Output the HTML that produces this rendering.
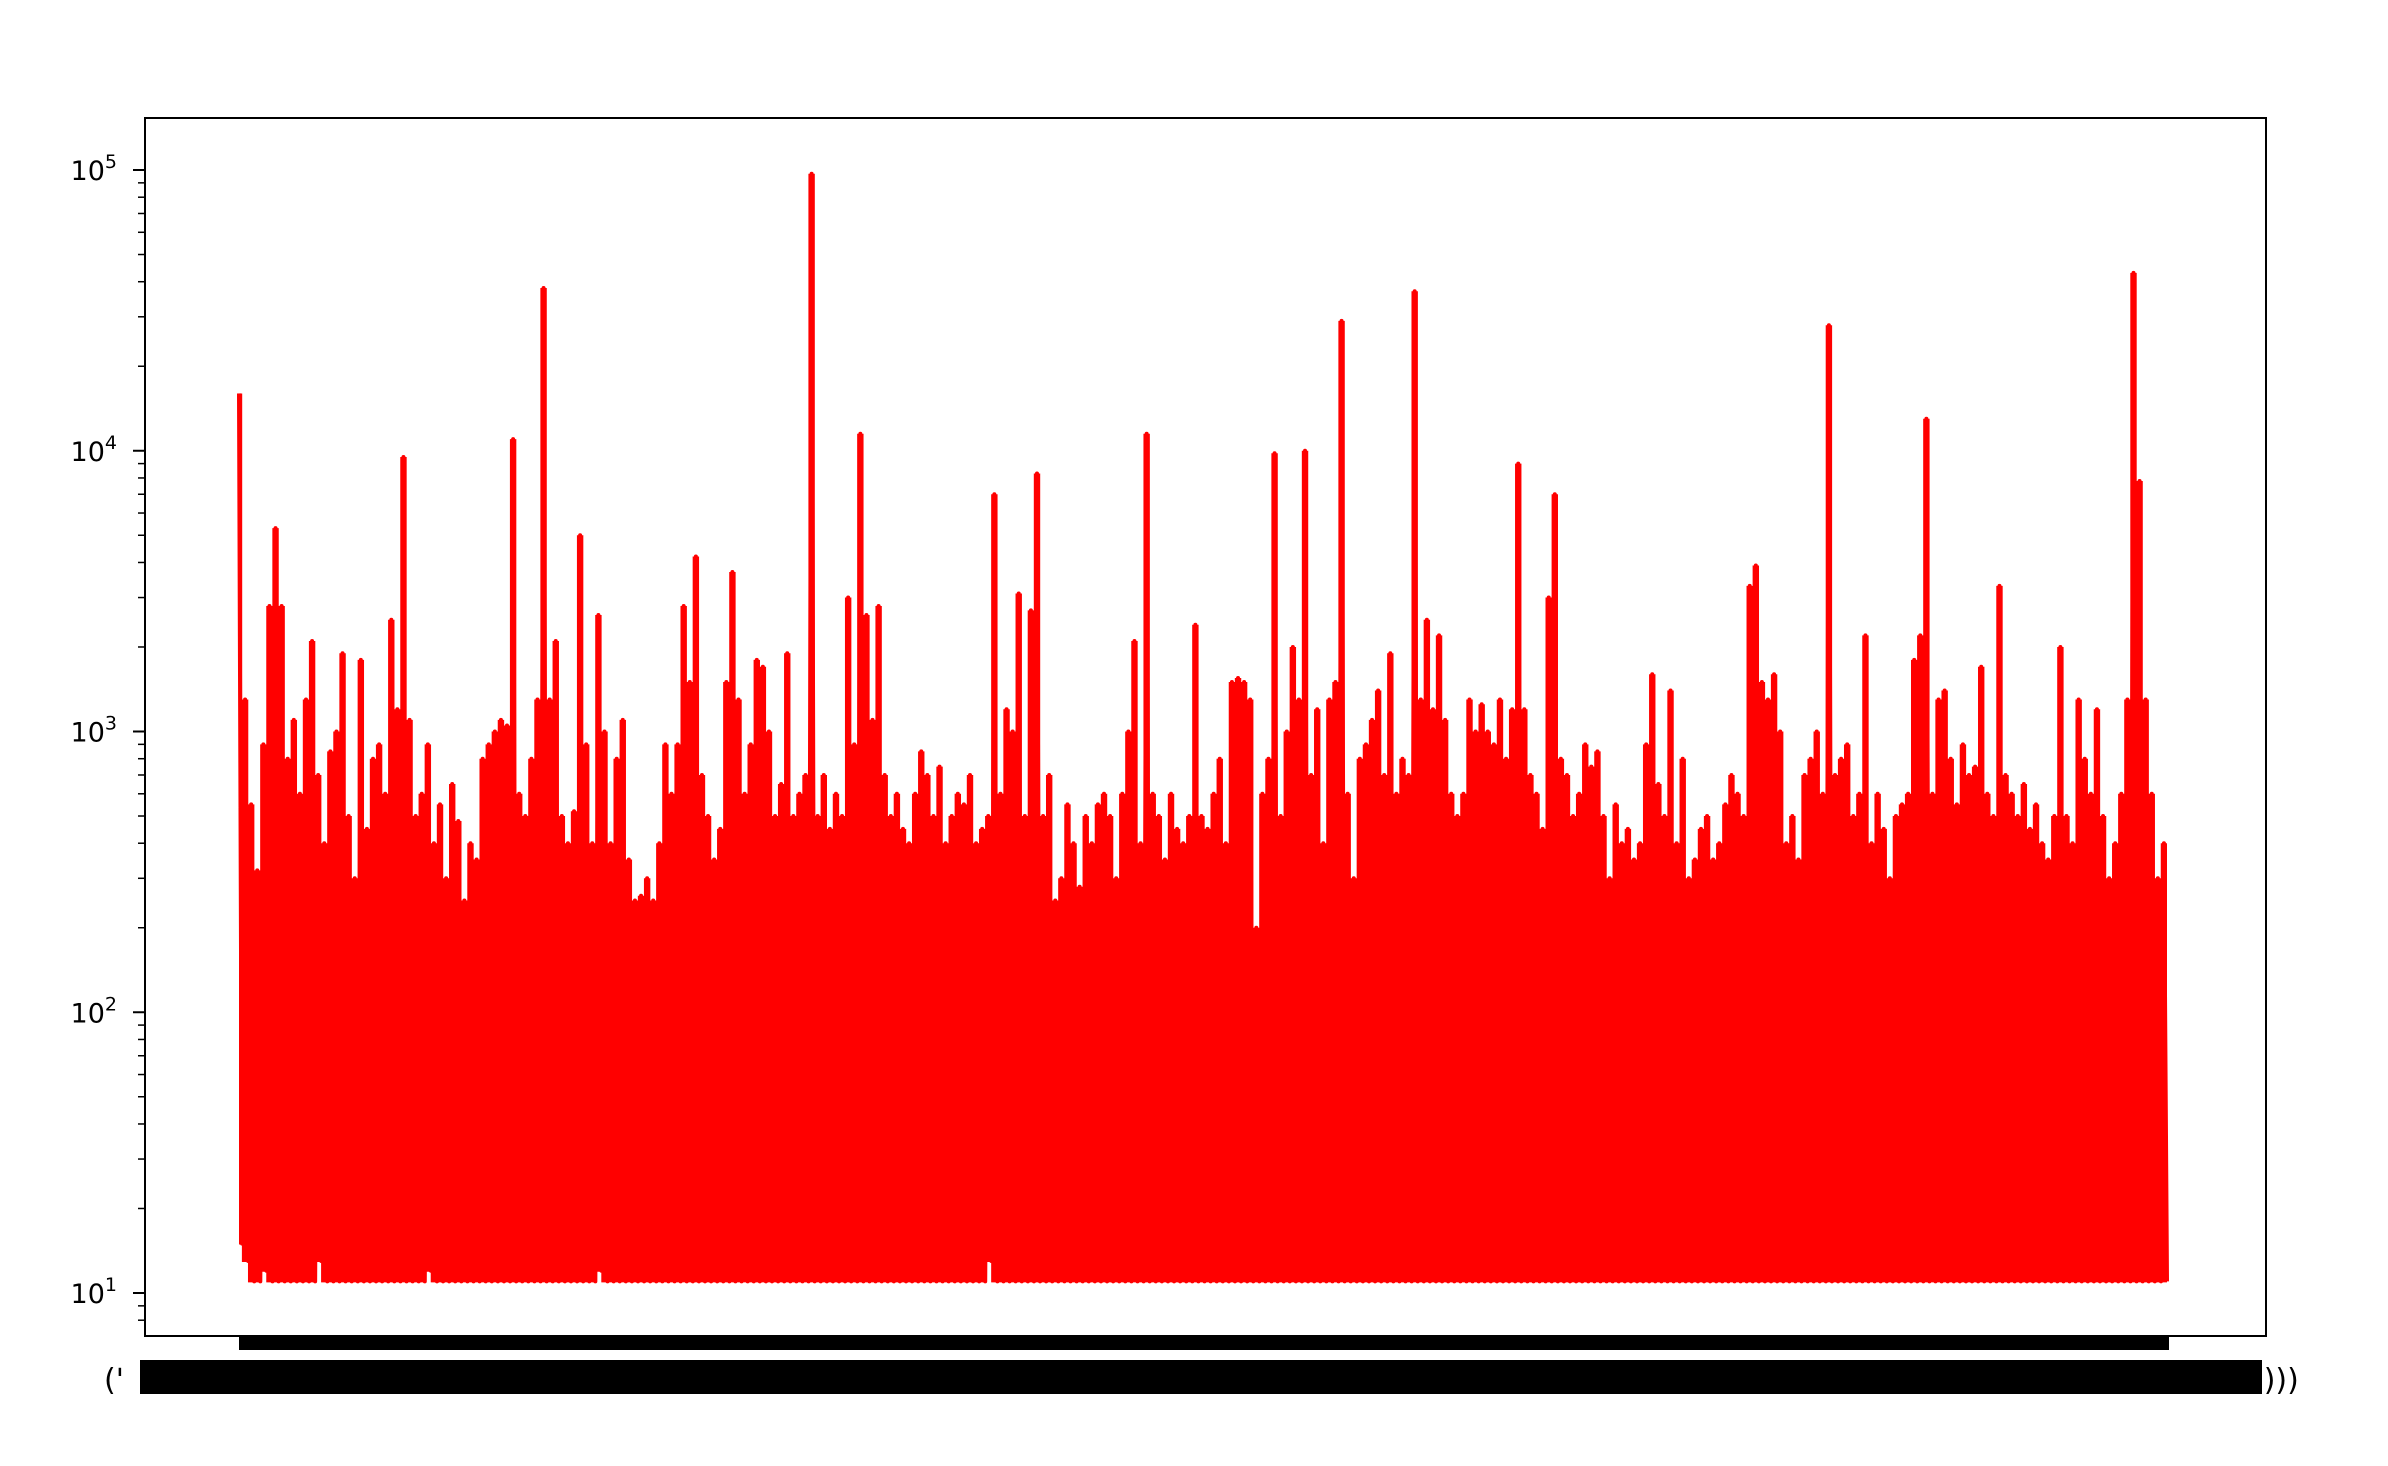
<!DOCTYPE html>
<html><head><meta charset="utf-8"><style>
html,body{margin:0;padding:0;background:#fff;width:2388px;height:1466px;overflow:hidden}
svg{display:block}
text{font-family:"DejaVu Sans","Liberation Sans",sans-serif;fill:#000}
</style></head><body>
<svg id="chart" width="2388" height="1466" viewBox="0 0 2388 1466" xmlns="http://www.w3.org/2000/svg">
<rect x="0" y="0" width="2388" height="1466" fill="#fff"/>
<g id="plot"></g>
<g id="yaxis"></g>
<rect x="239" y="1336" width="1930" height="14" fill="#000"/>
<rect x="140" y="1360" width="2122" height="34" fill="#000"/>
<text x="104" y="1390" font-size="30">('</text>
<text x="2252" y="1390" font-size="30">))))</text>
<rect x="145" y="118" width="2121" height="1218" fill="none" stroke="#000" stroke-width="2"/>
</svg>
<script>
const highs = [16000,1300,550,320,900,2800,5300,2800,800,1100,
600,1300,2100,700,400,850,1000,1900,500,300,
1800,450,800,900,600,2500,1200,9500,1100,500,
600,900,400,550,300,650,480,250,400,350,
800,900,1000,1100,1050,11000,600,500,800,1300,
38000,1300,2100,500,400,520,5000,900,400,2600,
1000,400,800,1100,350,250,260,300,250,400,
900,600,900,2800,1500,4200,700,500,350,450,
1500,3700,1300,600,900,1800,1700,1000,500,650,
1900,500,600,700,97000,500,700,450,600,500,
3000,900,11500,2600,1100,2800,700,500,600,450,
400,600,850,700,500,750,400,500,600,550,
700,400,450,500,7000,600,1200,1000,3100,500,
2700,8300,500,700,250,300,550,400,280,500,
400,550,600,500,300,600,1000,2100,400,11500,
600,500,350,600,450,400,500,2400,500,450,
600,800,400,1500,1550,1500,1300,200,600,800,
9800,500,1000,2000,1300,10000,700,1200,400,1300,
1500,29000,600,300,800,900,1100,1400,700,1900,
600,800,700,37000,1300,2500,1200,2200,1100,600,
500,600,1300,1000,1250,1000,900,1300,800,1200,
9000,1200,700,600,450,3000,7000,800,700,500,
600,900,750,850,500,300,550,400,450,350,
400,900,1600,650,500,1400,400,800,300,350,
450,500,350,400,550,700,600,500,3300,3900,
1500,1300,1600,1000,400,500,350,700,800,1000,
600,28000,700,800,900,500,600,2200,400,600,
450,300,500,550,600,1800,2200,13000,600,1300,
1400,800,550,900,700,750,1700,600,500,3300,
700,600,500,650,450,550,400,350,500,2000,
500,400,1300,800,600,1200,500,300,400,600,
1300,43000,7800,1300,600,300,400];
const lows = [15,13,11,11,12,11,11,11,11,11, 11,11,11,13,11,11,11,11,11,11,
11,11,11,11,11,11,11,11,11,11, 11,12,11,11,11,11,11,11,11,11,
11,11,11,11,11,11,11,11,11,11, 11,11,11,11,11,11,11,11,11,12,
11,11,11,11,11,11,11,11,11,11, 11,11,11,11,11,11,11,11,11,11,
11,11,11,11,11,11,11,11,11,11, 11,11,11,11,11,11,11,11,11,11,
11,11,11,11,11,11,11,11,11,11, 11,11,11,11,11,11,11,11,11,11,
11,11,11,13,11,11,11,11,11,11, 11,11,11,11,11,11,11,11,11,11,
11,11,11,11,11,11,11,11,11,11, 11,11,11,11,11,11,11,11,11,11,
11,11,11,11,11,11,11,11,11,11, 11,11,11,11,11,11,11,11,11,11,
11,11,11,11,11,11,11,11,11,11, 11,11,11,11,11,11,11,11,11,11,
11,11,11,11,11,11,11,11,11,11, 11,11,11,11,11,11,11,11,11,11,
11,11,11,11,11,11,11,11,11,11, 11,11,11,11,11,11,11,11,11,11,
11,11,11,11,11,11,11,11,11,11, 11,11,11,11,11,11,11,11,11,11,
11,11,11,11,11,11,11,11,11,11, 11,11,11,11,11,11,11,11,11,11,
11,11,11,11,11,11,11,11,11,11, 11,11,11,11,11,11,11,11,11,11,
11,11,11,11,11,11,11];
const yTickExps = [1,2,3,4,5];

const NS = "http://www.w3.org/2000/svg";
const X0 = 239, X1 = 2167;
const Y_DEC5 = 170, DEC = 280.75;
function yPos(v){ return Y_DEC5 + (5 - Math.log10(v)) * DEC; }
const series = [];
for (let i = 0; i < highs.length; i++) { series.push(highs[i]); series.push(lows[i] !== undefined ? lows[i] : 11); }
function xPos(j){ return X0 + j * (X1 - X0) / (series.length - 1); }

const plot = document.getElementById('plot');
// dense body of the signal: each high sample fills down to its low
let fd = '';
highs.forEach((h, i) => {
  const lo = lows[i] !== undefined ? lows[i] : 11;
  const xc = xPos(2 * i);
  const xl = Math.max(X0, xc - 3.2), xr = Math.min(X1, xc + 3.2);
  const yt = yPos(h), yb = yPos(lo) + 1;
  fd += 'M' + xl.toFixed(2) + ' ' + yt.toFixed(2) + 'L' + xr.toFixed(2) + ' ' + yt.toFixed(2) + 'L' + xr.toFixed(2) + ' ' + yb.toFixed(2) + 'L' + xl.toFixed(2) + ' ' + yb.toFixed(2) + 'Z';
});
const body = document.createElementNS(NS, 'path');
body.setAttribute('d', fd);
body.setAttribute('fill', '#ff0000');


plot.appendChild(body);

let d = '';
series.forEach((v, j) => { d += (j ? 'L' : 'M') + xPos(j).toFixed(2) + ' ' + yPos(v).toFixed(2); });
const path = document.createElementNS(NS, 'path');
path.setAttribute('d', d);
path.setAttribute('fill', 'none');
path.setAttribute('stroke', '#ff0000');
path.setAttribute('stroke-width', '4');
path.setAttribute('stroke-linejoin', 'round');


plot.appendChild(path);

const yaxis = document.getElementById('yaxis');
const yTop = 118, yBot = 1336;
for (let e = 0; e <= 5; e++) {
  for (let m = 1; m <= 9; m++) {
    const v = m * Math.pow(10, e);
    const y = yPos(v);
    if (y < yTop || y > yBot) continue;
    const len = m === 1 ? 12 : 7;
    const t = document.createElementNS(NS, 'line');
    t.setAttribute('x1', 145 - len); t.setAttribute('x2', 145);
    t.setAttribute('y1', y); t.setAttribute('y2', y);
    t.setAttribute('stroke', '#000'); t.setAttribute('stroke-width', m === 1 ? 2 : 1.5);
    
    
    yaxis.appendChild(t);
  }
}
yTickExps.forEach(e => {
  const y = yPos(Math.pow(10, e));
  const t = document.createElementNS(NS, 'text');
  t.setAttribute('x', 117); t.setAttribute('y', y + 10);
  t.setAttribute('text-anchor', 'end');
  t.setAttribute('font-size', '27');
  
  
  t.innerHTML = '10<tspan dy="-12" font-size="19">' + e + '</tspan>';
  yaxis.appendChild(t);
});
</script>
</body></html>
